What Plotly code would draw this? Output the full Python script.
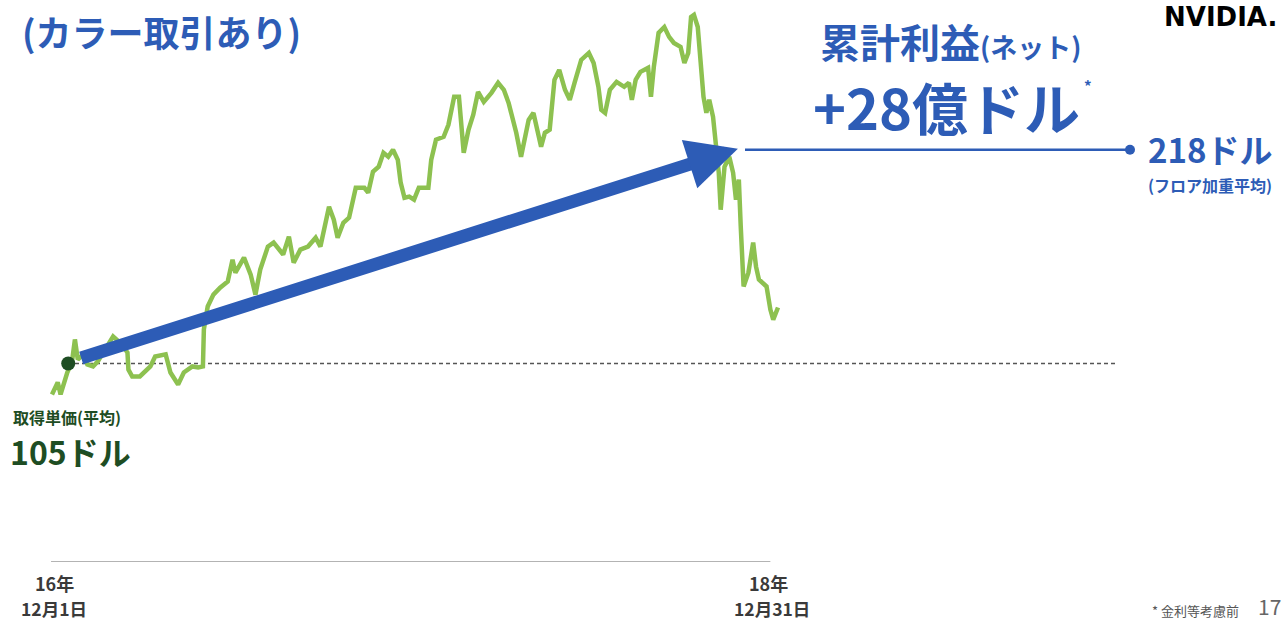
import plotly.graph_objects as go

# ---- data ----
dates = [
    "2016-12-01", "2016-12-07", "2016-12-10", "2016-12-17", "2016-12-22", "2016-12-25", "2016-12-28",
    "2017-01-03", "2017-01-07", "2017-01-13", "2017-01-18", "2017-01-26", "2017-02-03", "2017-02-10",
    "2017-02-18", "2017-02-19", "2017-02-23", "2017-03-03", "2017-03-14", "2017-03-19", "2017-03-30",
    "2017-04-04", "2017-04-12", "2017-04-18", "2017-04-27", "2017-05-03", "2017-05-08", "2017-05-09",
    "2017-05-13", "2017-05-19", "2017-05-26", "2017-06-03", "2017-06-08", "2017-06-11", "2017-06-20",
    "2017-06-27", "2017-07-02", "2017-07-07", "2017-07-15", "2017-07-21", "2017-07-31", "2017-08-06",
    "2017-08-11", "2017-08-18", "2017-08-26", "2017-09-03", "2017-09-08", "2017-09-17", "2017-09-22",
    "2017-09-26", "2017-10-02", "2017-10-08", "2017-10-15", "2017-10-24", "2017-10-28", "2017-11-02",
    "2017-11-08", "2017-11-13", "2017-11-18", "2017-11-23", "2017-11-28", "2017-12-01", "2017-12-05",
    "2017-12-10", "2017-12-15", "2017-12-20", "2017-12-30", "2018-01-02", "2018-01-07", "2018-01-15",
    "2018-01-20", "2018-01-26", "2018-01-31", "2018-02-05", "2018-02-10", "2018-02-15", "2018-02-20",
    "2018-02-26", "2018-03-06", "2018-03-13", "2018-03-19", "2018-03-24", "2018-03-27", "2018-04-01",
    "2018-04-06", "2018-04-14", "2018-04-19", "2018-04-24", "2018-04-27", "2018-05-01", "2018-05-06",
    "2018-05-11", "2018-05-16", "2018-05-22", "2018-05-27", "2018-06-01", "2018-06-08", "2018-06-16",
    "2018-06-21", "2018-06-26", "2018-06-29", "2018-07-03", "2018-07-08", "2018-07-15", "2018-07-23",
    "2018-07-28", "2018-07-31", "2018-08-04", "2018-08-09", "2018-08-17", "2018-08-20", "2018-08-23",
    "2018-08-28", "2018-09-03", "2018-09-08", "2018-09-13", "2018-09-20", "2018-09-24", "2018-09-28",
    "2018-10-01", "2018-10-04", "2018-10-08", "2018-10-11", "2018-10-14", "2018-10-17", "2018-10-20",
    "2018-10-24", "2018-10-27", "2018-10-30", "2018-11-01", "2018-11-05", "2018-11-10", "2018-11-14",
    "2018-11-17", "2018-11-20", "2018-11-22", "2018-11-25", "2018-11-30", "2018-12-05", "2018-12-08",
    "2018-12-11", "2018-12-19", "2018-12-23", "2018-12-26", "2018-12-31",
]
prices = [
    88.6, 95.0, 88.6, 100.2, 106.1, 117.7, 107.1,
    109.8, 104.5, 103.4, 106.1, 112.4, 119.3, 116.1,
    110.8, 101.8, 98.1, 98.1, 103.4, 108.7, 109.8,
    100.2, 93.9, 100.2, 103.4, 102.9, 103.4, 123.0,
    135.1, 141.4, 145.1, 148.3, 159.9, 153.0, 161.0,
    152.0, 141.4, 154.6, 166.8, 168.9, 162.6, 172.1,
    158.3, 165.2, 166.8, 171.5, 166.8, 187.9, 181.0,
    171.5, 179.4, 182.1, 197.9, 197.9, 195.3, 206.4,
    209.0, 216.4, 214.3, 218.0, 212.7, 200.6, 192.6,
    193.2, 191.6, 197.9, 197.9, 212.7, 223.3, 224.9,
    231.2, 246.0, 246.0, 216.4, 228.6, 236.5, 248.6,
    243.3, 248.1, 253.4, 249.7, 242.8, 237.5, 227.0,
    214.3, 233.8, 237.5, 227.0, 219.6, 227.0, 228.6,
    255.0, 260.2, 249.7, 244.4, 253.4, 265.5, 269.2,
    263.9, 251.3, 239.1, 237.5, 249.7, 253.9, 251.3,
    253.4, 244.4, 255.0, 259.2, 261.3, 246.0, 261.8,
    279.8, 282.9, 277.7, 274.5, 272.4, 263.9, 269.2,
    288.2, 289.3, 282.9, 267.1, 246.0, 237.5, 244.4,
    235.4, 221.7, 205.8, 186.3, 209.0, 214.3, 205.8,
    191.6, 202.2, 177.3, 145.7, 153.0, 168.9, 156.2,
    149.4, 145.7, 133.5, 128.2, 134.6,
]

avg_cost = 105          # 取得単価(平均)
floor_avg = 218         # フロア加重平均
purchase_date = "2016-12-18"
arrow_start = ("2016-12-30", 107.6)
arrow_end = ("2018-11-19", 218.5)
tick_vals = ["2016-12-01", "2018-12-31"]
tick_year = ["16年", "18年"]
tick_day = ["12月1日", "12月31日"]

# ---- style ----
W, H = 1282, 622
MB = 60
BLUE = "#2d5cb6"
GREEN = "#8dc150"
DKGREEN = "#1e4d23"
GRAY = "#3a3a3a"
JP = "Noto Sans CJK JP"


def px(x):
    return x / W


def py(y):
    return (H - MB - y) / (H - MB)


fig = go.Figure()

fig.add_trace(go.Scatter(
    x=dates, y=prices, mode="lines",
    line=dict(color=GREEN, width=4.5), hoverinfo="skip",
))
fig.add_trace(go.Scatter(
    x=[purchase_date], y=[avg_cost], mode="markers",
    marker=dict(color=DKGREEN, size=14), hoverinfo="skip",
))

shapes = [
    # baseline axis
    dict(type="line", xref="x", yref="y", x0="2016-11-30", x1="2018-12-23", y0=0, y1=0,
         line=dict(color="#9a9a9a", width=1.5)),
    # average cost dashed line
    dict(type="line", xref="paper", yref="y", x0=px(75), x1=px(1115), y0=avg_cost, y1=avg_cost,
         line=dict(color="#555555", width=1.6, dash="4px,3px"), layer="below"),
    # 218 line
    dict(type="line", xref="paper", yref="y", x0=px(745), x1=px(1128), y0=floor_avg, y1=floor_avg,
         line=dict(color=BLUE, width=2.5)),
    dict(type="circle", xref="paper", yref="y", xsizemode="pixel", ysizemode="pixel",
         xanchor=px(1130), yanchor=floor_avg, x0=-5, x1=5, y0=-5, y1=5,
         fillcolor=BLUE, line=dict(color=BLUE, width=0)),
]

ann = []
# big arrow
ann.append(dict(
    x=arrow_end[0], y=arrow_end[1], ax=arrow_start[0], ay=arrow_start[1],
    xref="x", yref="y", axref="x", ayref="y", text="", showarrow=True,
    arrowhead=2, arrowsize=0.78, arrowwidth=13, arrowcolor=BLUE,
))

# x-axis date labels (two lines), placed on the date scale
for tv, yr, dy, sh_y, sh_d in zip(tick_vals, tick_year, tick_day, [3, -10], [2, -6]):
    ann.append(dict(text=yr, x=tv, y=py(583), xref="x", yref="paper", xshift=sh_y,
                    xanchor="center", yanchor="middle", showarrow=False, borderpad=0,
                    font=dict(family=JP, size=18, color=GRAY, weight="bold")))
    ann.append(dict(text=dy, x=tv, y=py(609), xref="x", yref="paper", xshift=sh_d,
                    xanchor="center", yanchor="middle", showarrow=False, borderpad=0,
                    font=dict(family=JP, size=17.5, color=GRAY, weight="bold")))


def txt(text, x, y, size, color, xanchor="left", weight="bold", family=JP):
    ann.append(dict(
        text=text, x=px(x), y=py(y), xref="paper", yref="paper",
        xanchor=xanchor, yanchor="middle", showarrow=False,
        font=dict(family=family, size=size, color=color, weight=weight),
    ))


txt("(カラー取引あり)", 20, 31, 36, BLUE)
txt("NVIDIA.", 1279, 17, 26, "#000000", xanchor="right", family="DejaVu Sans")
txt("累計利益<span style='font-size:27px'>(ネット)</span>", 818, 41, 40, BLUE)
txt("+28億ドル", 811, 106, 56, BLUE)
txt("*", 1082, 86, 15, BLUE)
txt("218ドル", 1146, 149, 33, BLUE)
txt("(フロア加重平均)", 1146, 185, 16, BLUE)
txt("取得単価(平均)", 11, 417, 16, DKGREEN)
txt("105ドル", 8, 451, 32, DKGREEN)
txt("* 金利等考慮前", 1150, 610, 13, "#555555", weight="normal")
txt("17", 1256, 606, 21, "#666666", weight="normal")

fig.update_layout(
    width=W, height=H,
    margin=dict(l=0, r=0, t=0, b=MB),
    paper_bgcolor="white", plot_bgcolor="white",
    showlegend=False,
    shapes=shapes, annotations=ann,
    xaxis=dict(
        type="date", range=["2016-10-07 14:00", "2020-06-10 14:00"],
        showgrid=False, zeroline=False, showline=False, ticks="",
        showticklabels=False, fixedrange=True,
    ),
    yaxis=dict(
        range=[0, 297.2], visible=False, showgrid=False, zeroline=False, fixedrange=True,
    ),
)

fig.write_html("out.html", config=dict(displayModeBar=False))
